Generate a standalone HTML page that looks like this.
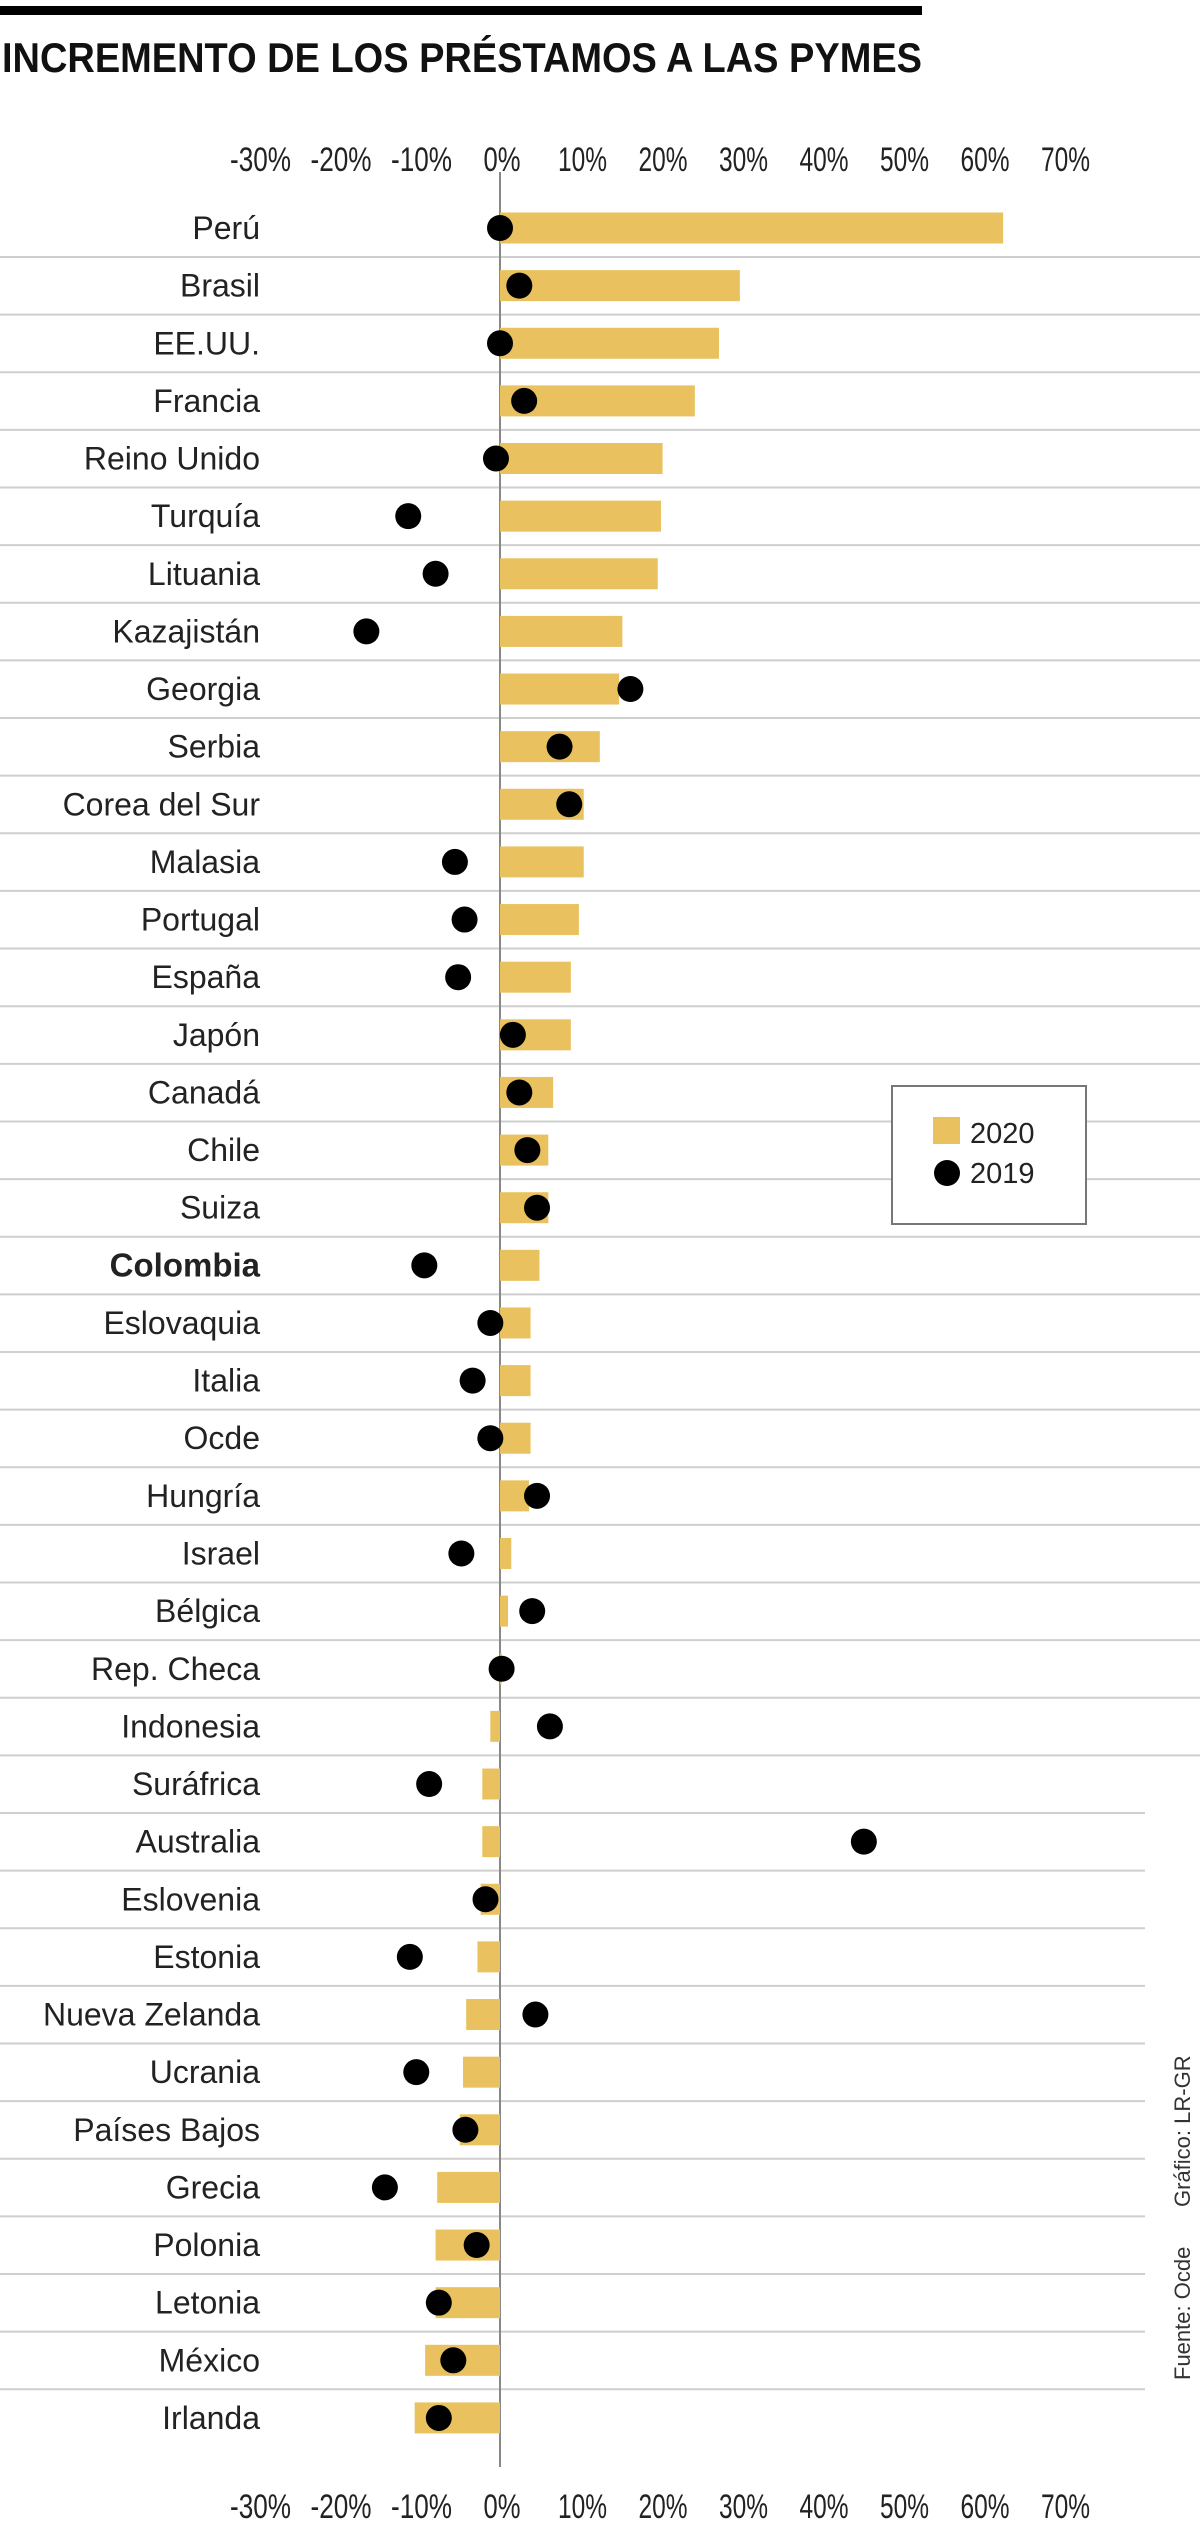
<!DOCTYPE html>
<html><head><meta charset="utf-8">
<style>
html,body{margin:0;padding:0;background:#fff;}
svg{display:block;font-family:"Liberation Sans",sans-serif;}
</style></head>
<body>
<svg id="chart" width="1200" height="2543" viewBox="0 0 1200 2543" xmlns="http://www.w3.org/2000/svg">
<rect x="0" y="6" width="922" height="9" fill="#000"/>
<text x="2" y="72" font-size="42" font-weight="bold" fill="#111" textLength="920" lengthAdjust="spacingAndGlyphs">INCREMENTO DE LOS PRÉSTAMOS A LAS PYMES</text>
<g id="grid"></g>
<g id="bars"></g>
<g id="dots"></g>
<g id="labels"></g>
<g id="ticks"></g>
<g>
<rect x="892" y="1086" width="194" height="138" fill="#fff" stroke="#777" stroke-width="2"/>
<rect x="933" y="1117" width="27" height="27" fill="#e9c15e"/>
<text x="970" y="1143" font-size="29" fill="#222">2020</text>
<circle cx="947" cy="1173" r="13" fill="#000"/>
<text x="970" y="1183" font-size="29" fill="#222">2019</text>
</g>
<text transform="translate(1190,2207) rotate(-90)" font-size="22" fill="#333">Gráfico: LR-GR</text>
<text transform="translate(1190,2380) rotate(-90)" font-size="22" fill="#333">Fuente: Ocde</text>
</svg>
<script>
const countries = ["Perú","Brasil","EE.UU.","Francia","Reino Unido","Turquía","Lituania","Kazajistán","Georgia","Serbia","Corea del Sur","Malasia","Portugal","España","Japón","Canadá","Chile","Suiza","Colombia","Eslovaquia","Italia","Ocde","Hungría","Israel","Bélgica","Rep. Checa","Indonesia","Surafrica","Australia","Eslovenia","Estonia","Nueva Zelanda","Ucrania","Países Bajos","Grecia","Polonia","Letonia","México","Irlanda"];
const displayNames = ["Perú","Brasil","EE.UU.","Francia","Reino Unido","Turquía","Lituania","Kazajistán","Georgia","Serbia","Corea del Sur","Malasia","Portugal","España","Japón","Canadá","Chile","Suiza","Colombia","Eslovaquia","Italia","Ocde","Hungría","Israel","Bélgica","Rep. Checa","Indonesia","Suráfrica","Australia","Eslovenia","Estonia","Nueva Zelanda","Ucrania","Países Bajos","Grecia","Polonia","Letonia","México","Irlanda"];
const values2020 = [62.5,29.8,27.2,24.2,20.2,20,19.6,15.2,14.8,12.4,10.4,10.4,9.8,8.8,8.8,6.6,6,6,4.9,3.8,3.8,3.8,3.6,1.4,1,0.2,-1.2,-2.2,-2.2,-2.4,-2.8,-4.2,-4.6,-5,-7.8,-8,-8,-9.3,-10.6];
const values2019 = [0,2.4,0,3,-0.5,-11.4,-8,-16.6,16.2,7.4,8.6,-5.6,-4.4,-5.2,1.6,2.4,3.4,4.6,-9.4,-1.2,-3.4,-1.2,4.6,-4.8,4,0.2,6.2,-8.8,45.2,-1.8,-11.2,4.4,-10.4,-4.3,-14.3,-2.9,-7.6,-5.8,-7.6];
const tickValues = [-30,-20,-10,0,10,20,30,40,50,60,70];
const tickLabels = ["-30%","-20%","-10%","0%","10%","20%","30%","40%","50%","60%","70%"];

const NS = "http://www.w3.org/2000/svg";
const x = v => 500 + v * 8.05;
const y = i => 228 + i * 57.63;
function mk(tag, attrs, parent){ const e=document.createElementNS(NS,tag); for(const k in attrs) e.setAttribute(k,attrs[k]); parent.appendChild(e); return e; }
const grid=document.getElementById('grid'), bars=document.getElementById('bars'), dots=document.getElementById('dots'), labels=document.getElementById('labels'), ticks=document.getElementById('ticks');

for(let i=0;i<countries.length-1;i++){
  const yy = y(i)+29;
  const l = mk('line',{x1:0,x2:(i>=27?1145:1200),y1:yy,y2:yy,stroke:'#cfcfcf','stroke-width':2},grid);
  
  
}
const axis = mk('line',{x1:x(0),x2:x(0),y1:172,y2:2467,stroke:'#888','stroke-width':2},grid);



countries.forEach((c,i)=>{
  const v=values2020[i];
  const b = mk('rect',{x:Math.min(x(0),x(v)),y:y(i)-15.5,width:Math.abs(x(v)-x(0)),height:31,fill:'#e9c15e'},bars);
  
  
  const d = mk('circle',{cx:x(values2019[i]),cy:y(i),r:13,fill:'#000'},dots);
  
  
  const bold = c==="Colombia";
  const t = mk('text',{x:260,y:y(i)+11,'text-anchor':'end','font-size':bold?33:32,'font-weight':bold?'bold':'normal',fill:'#222'},labels);
  t.textContent = displayNames[i];
  
  
});

tickValues.forEach((v,k)=>{
  [171,2518].forEach(yy=>{
    const t = mk('text',{x:x(v)+2,y:yy,'text-anchor':'middle','font-size':34,fill:'#222',textLength:12*tickLabels[k].length+13,lengthAdjust:'spacingAndGlyphs'},ticks);
    t.textContent = tickLabels[k];
    
    
  });
});
</script>
</body></html>
